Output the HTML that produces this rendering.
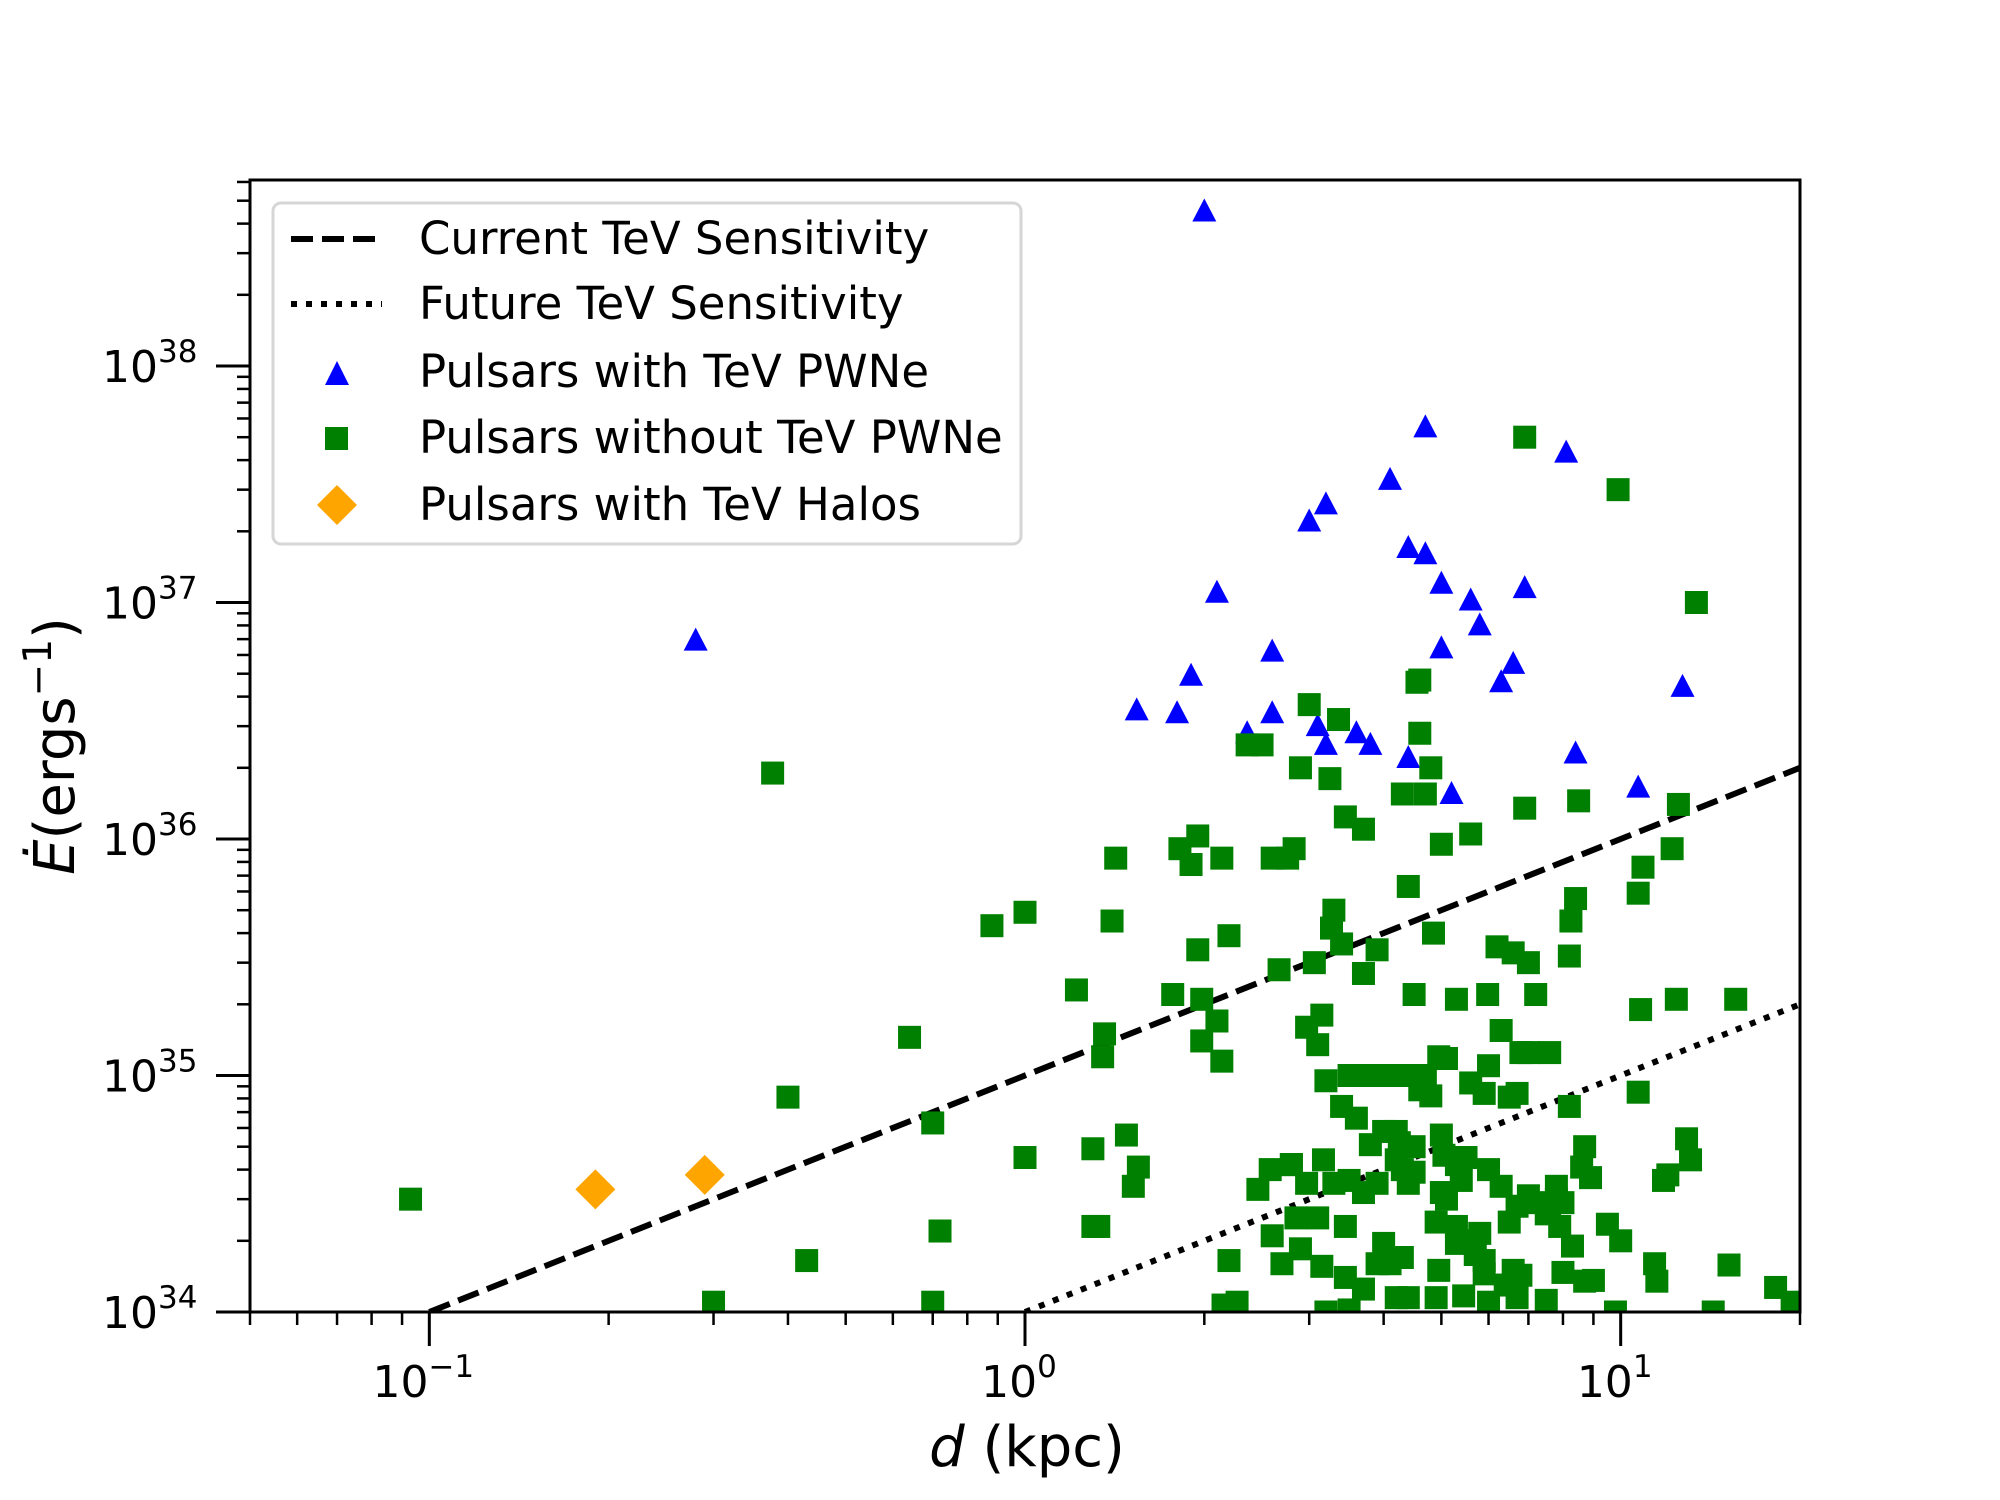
<!DOCTYPE html>
<html><head><meta charset="utf-8"><style>
html,body{margin:0;padding:0;background:#fff}
svg{display:block;font-family:"DejaVu Sans","Liberation Sans",sans-serif}
</style></head><body>
<svg id="chart" width="2000" height="1500" viewBox="0 0 2000 1500" xmlns="http://www.w3.org/2000/svg">
<rect width="2000" height="1500" fill="#fff"/>
<g id="marks"></g>
<g id="axes"></g>
<g id="legend">
  <rect x="273" y="203" width="748" height="341" rx="8" fill="#fff" fill-opacity="0.85" stroke="#d6d6d6" stroke-width="3"/>
  <line x1="291" y1="239" x2="382" y2="239" stroke="#000" stroke-width="6" stroke-dasharray="22,9"/>
  <text x="419" y="254" font-size="45">Current TeV Sensitivity</text>
  <line x1="291" y1="304" x2="382" y2="304" stroke="#000" stroke-width="6" stroke-dasharray="6,9"/>
  <text x="419" y="319" font-size="45">Future TeV Sensitivity</text>
  <polygon points="337,361 349,385 325,385" fill="#0000ff"/>
  <text x="419" y="387" font-size="45">Pulsars with TeV PWNe</text>
  <rect x="325" y="427" width="23" height="23" fill="#008000"/>
  <text x="419" y="453" font-size="45">Pulsars without TeV PWNe</text>
  <polygon points="337,485 357,505 337,525 317,505" fill="#ffa500"/>
  <text x="419" y="520" font-size="45">Pulsars with TeV Halos</text>
</g>
</svg>
<script>
const triD=[2.0,0.28,4.7,8.1,4.1,3.2,3.0,4.4,4.7,5.0,2.1,6.9,5.6,5.8,5.0,2.6,6.6,6.3,12.7,1.9,1.54,1.8,2.6,3.1,2.36,3.6,3.2,3.8,8.4,4.4,5.2,10.7];
const triE=[4.5e38,6.9e36,5.5e37,4.3e37,3.3e37,2.6e37,2.2e37,1.7e37,1.6e37,1.2e37,1.1e37,1.15e37,1.02e37,8e36,6.4e36,6.2e36,5.5e36,4.6e36,4.4e36,4.9e36,3.5e36,3.4e36,3.4e36,3.0e36,2.8e36,2.8e36,2.5e36,2.5e36,2.3e36,2.2e36,1.55e36,1.65e36];
const haloD=[0.19,0.29];
const haloE=[3.3e34,3.8e34];
const sqD=[0.093,0.377,0.40,0.30,0.43,0.64,0.70,0.72,0.70,0.88,1.0,1.0,1.22,1.3,1.3,1.33,1.36,1.35,1.4,1.42,1.48,1.55,1.52,1.77,1.82,1.95,1.9,2.14,1.95,1.98,1.98,2.1,2.14,2.2,2.2,2.15,2.27,2.36,2.5,2.46,2.58,2.6,2.6,2.76,2.83,2.67,2.9,3.0,3.36,3.25,3.45,3.7,3.3,3.27,3.4,3.06,3.9,3.7,2.97,3.15,3.1,3.2,3.4,3.6,3.5,3.8,4.0,4.1,3.17,2.8,2.97,3.3,3.5,3.7,3.9,4.0,3.8,4.2,4.25,4.2,4.3,4.4,2.8,2.85,3.1,2.9,3.15,2.7,3.45,3.45,3.7,3.9,4.0,4.1,4.2,4.3,4.4,4.5,4.5,4.5,4.45,4.5,4.7,4.6,4.8,4.95,5.1,4.3,4.7,4.8,4.6,4.55,4.6,4.4,4.85,5.0,5.6,5.3,5.98,6.2,6.6,7.0,7.2,6.3,6.8,7.0,7.6,6.0,5.6,5.9,6.5,6.7,8.2,8.2,8.25,8.4,8.5,6.9,6.9,9.9,13.4,12.5,12.2,10.9,10.7,10.8,12.4,15.6,10.7,8.7,8.6,8.9,7.8,7.8,7.0,7.2,7.5,7.6,8.0,7.9,8.3,6.7,6.5,6.3,6.0,5.5,5.3,5.0,5.05,5.4,5.0,5.1,4.9,5.3,5.3,5.5,5.7,5.8,5.9,5.9,4.95,4.9,5.45,6.0,6.4,6.6,6.8,6.7,7.5,8.0,8.7,9.0,9.5,10.0,9.8,11.4,11.8,12.0,12.9,13.1,15.2,14.3,18.2,19.4,11.5,3.5,3.2];
const sqE=[3.0e34,1.9e36,8.1e34,1.1e34,1.65e34,1.45e35,6.3e34,2.2e34,1.1e34,4.3e35,4.9e35,4.5e34,2.3e35,4.9e34,2.3e34,2.3e34,1.5e35,1.2e35,4.5e35,8.3e35,5.6e34,4.1e34,3.4e34,2.2e35,9.1e35,1.03e36,7.8e35,8.3e35,3.4e35,2.1e35,1.4e35,1.7e35,1.15e35,3.9e35,1.65e34,1.07e34,1.1e34,2.5e36,2.5e36,3.3e34,4.0e34,2.1e34,8.3e35,8.3e35,9.1e35,2.8e35,2.0e36,3.7e36,3.2e36,1.8e36,1.24e36,1.1e36,5e35,4.2e35,3.6e35,3.0e35,3.4e35,2.7e35,1.6e35,1.8e35,1.35e35,9.5e34,7.4e34,6.6e34,1.0e35,1.0e35,1.0e35,1.0e35,4.4e34,4.2e34,3.5e34,3.5e34,3.6e34,3.2e34,3.5e34,5.8e34,5.1e34,5.8e34,5.2e34,4.4e34,4.0e34,3.5e34,4.2e34,2.5e34,2.5e34,1.85e34,1.56e34,1.6e34,2.3e34,1.4e34,1.25e34,1.6e34,1.95e34,1.6e34,1.15e34,1.7e34,1.15e34,5e34,3.9e34,2.2e35,1.0e35,1.0e35,1.0e35,8.7e34,8.2e34,1.2e35,1.18e35,1.55e36,1.55e36,2.0e36,2.8e36,4.6e36,4.7e36,6.3e35,4.0e35,9.5e35,1.05e36,2.1e35,2.2e35,3.5e35,3.3e35,3.0e35,2.2e35,1.55e35,1.25e35,1.25e35,1.25e35,1.1e35,9.3e34,8.4e34,8.1e34,8.4e34,7.4e34,3.2e35,4.5e35,5.6e35,1.45e36,1.35e36,5.0e37,3.0e37,1e37,1.4e36,9.1e35,7.6e35,5.9e35,1.9e35,2.1e35,2.1e35,8.5e34,5e34,4.1e34,3.7e34,3.4e34,3.0e34,3.1e34,2.9e34,2.6e34,2.8e34,2.9e34,2.3e34,1.9e34,2.8e34,2.4e34,3.4e34,4e34,4.5e34,4.2e34,5.6e34,4.6e34,3.6e34,3.2e34,3.0e34,2.4e34,2.3e34,1.95e34,2.0e34,1.75e34,2.15e34,1.65e34,1.45e34,1.5e34,1.15e34,1.17e34,1.1e34,1.3e34,1.5e34,1.43e34,1.15e34,1.12e34,1.47e34,1.35e34,1.36e34,2.35e34,2.0e34,1.0e34,1.6e34,3.6e34,3.8e34,5.4e34,4.4e34,1.58e34,1.0e34,1.27e34,1.1e34,1.35e34,1.02e34,1.0e34];
const xTickVals=[0.1,1,10];
const xTickExp=["\u22121","0","1"];
const yTickVals=[1e34,1e35,1e36,1e37,1e38];
const yTickExp=["34","35","36","37","38"];
const currentCoef=1e35, futureCoef=1e34;
const lineD=[0.1,20];

const NS="http://www.w3.org/2000/svg";
const L=250,R=1800,T=180,B=1312;
const xMin=Math.log10(0.05),xMax=Math.log10(20);
const yMin=34,yMax=34+(B-T)/236.5;
function X(d){return L+(Math.log10(d)-xMin)/(xMax-xMin)*(R-L);}
function Y(e){return B-(Math.log10(e)-yMin)/(yMax-yMin)*(B-T);}
function mk(tag,attrs,parent){const el=document.createElementNS(NS,tag);for(const k in attrs)el.setAttribute(k,attrs[k]);parent.appendChild(el);return el;}
const marks=document.getElementById('marks');
const axes=document.getElementById('axes');
const clip=mk('clipPath',{id:'plotclip'},marks);
mk('rect',{x:L,y:T,width:R-L,height:B-T},clip);
const g=mk('g',{'clip-path':'url(#plotclip)'},marks);



const cur=mk('line',{x1:X(lineD[0]),y1:Y(currentCoef*lineD[0]),x2:X(lineD[1]),y2:Y(currentCoef*lineD[1]),stroke:'#000','stroke-width':6,'stroke-dasharray':'22,9'},g);


const fut=mk('line',{x1:X(1),y1:Y(futureCoef*1),x2:X(lineD[1]),y2:Y(futureCoef*lineD[1]),stroke:'#000','stroke-width':6,'stroke-dasharray':'6,9'},g);



for(let i=0;i<triD.length;i++){
  const x=X(triD[i]),y=Y(triE[i]);
  const p=mk('polygon',{points:`${x},${y-13} ${x+12},${y+10} ${x-12},${y+10}`,fill:'#0000ff'},g);
  
  
}
for(let i=0;i<sqD.length;i++){
  const x=X(sqD[i]),y=Y(sqE[i]);
  const r=mk('rect',{x:x-11.5,y:y-11.5,width:23,height:23,fill:'#008000'},g);
  
  
}
for(let i=0;i<haloD.length;i++){
  const x=X(haloD[i]),y=Y(haloE[i]);
  const p=mk('polygon',{points:`${x},${y-20} ${x+20},${y} ${x},${y+20} ${x-20},${y}`,fill:'#ffa500'},g);
  
  
}

const frame=mk('rect',{x:L,y:T,width:R-L,height:B-T,fill:'none',stroke:'#000','stroke-width':3},axes);



for(let dec=-2;dec<=1;dec++){
  for(let m=1;m<=9;m++){
    const v=m*Math.pow(10,dec);
    if(v<0.05-1e-9||v>20+1e-9)continue;
    const x=X(v),len=(m===1)?34:13;
    const t=mk('line',{x1:x,y1:B,x2:x,y2:B+len,stroke:'#000','stroke-width':m===1?3:2.5},axes);
    
    
  }
}
for(let i=0;i<xTickVals.length;i++){
  const x=X(xTickVals[i]);
  const t=mk('text',{x:x-6,y:1397,'font-size':44,'text-anchor':'middle'},axes);
  
  
  t.textContent='10';
  const s=mk('tspan',{dy:-20,'font-size':31},t);
  s.textContent=xTickExp[i];
}
for(let dec=34;dec<=38;dec++){
  for(let m=1;m<=9;m++){
    const v=m*Math.pow(10,dec);
    const y=Y(v);
    if(y<T-0.5)continue;
    const len=(m===1)?34:13;
    const t=mk('line',{x1:L,y1:y,x2:L-len,y2:y,stroke:'#000','stroke-width':m===1?3:2.5},axes);
    
    
  }
}
for(let i=0;i<yTickVals.length;i++){
  const y=Y(yTickVals[i]);
  const t=mk('text',{x:102,y:y+16,'font-size':44},axes);
  
  
  t.textContent='10';
  const s=mk('tspan',{dy:-20,'font-size':31},t);
  s.textContent=yTickExp[i];
}
const xt=mk('text',{x:1027,y:1466,'font-size':56,'text-anchor':'middle'},axes);


const xi=mk('tspan',{'font-style':'italic'},xt);xi.textContent='d';
const xr=mk('tspan',{},xt);xr.textContent=' (kpc)';
const yt=mk('text',{x:0,y:0,'font-size':56,'text-anchor':'middle',transform:'translate(74,746) rotate(-90)'},axes);


const yi=mk('tspan',{'font-style':'italic'},yt);yi.textContent='\u0116';
const yr=mk('tspan',{},yt);yr.textContent='(ergs';
const ys=mk('tspan',{dy:-23,'font-size':39},yt);ys.textContent='\u22121';
const yc=mk('tspan',{dy:23},yt);yc.textContent=')';
</script>
</body></html>
